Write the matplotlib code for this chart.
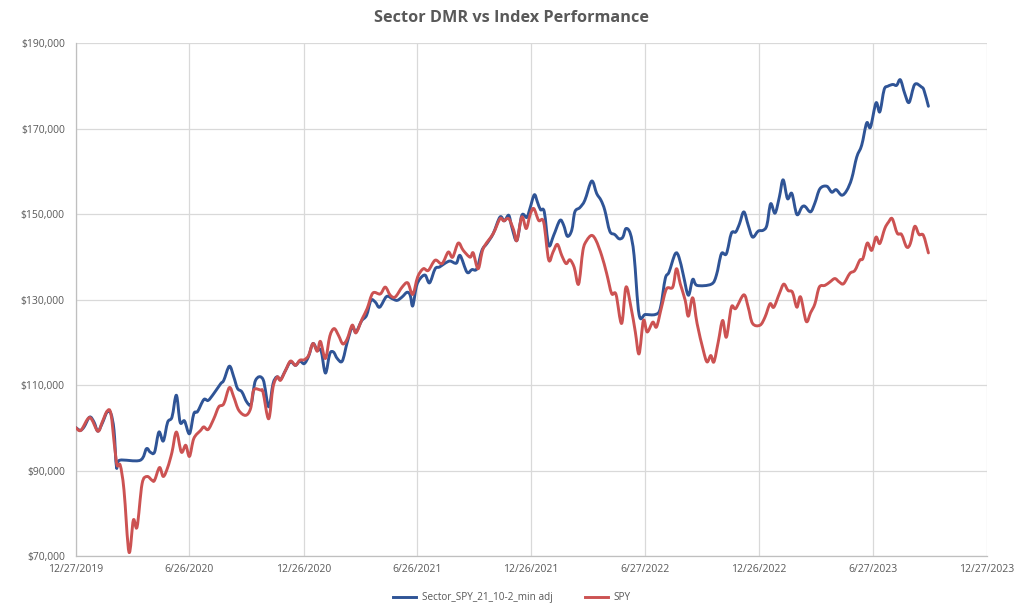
import matplotlib
matplotlib.use("Agg")
import matplotlib.pyplot as plt
import matplotlib.dates as mdates
from matplotlib.ticker import FuncFormatter
from matplotlib.path import Path
from matplotlib.patches import PathPatch
from matplotlib.lines import Line2D
import numpy as np
import pandas as pd

START = "2019-12-27"

# Days elapsed since 12/27/2019 and portfolio values (USD)
sector_days = [0, 7, 13, 22, 29, 35, 42, 50, 56, 61, 65, 70, 103, 113, 119, 126, 133, 140, 147, 154,
               161, 167, 174, 182, 189, 195, 205, 212, 221, 232, 237, 246, 253, 259, 266, 274, 281, 288,
               300, 309, 316, 322, 328, 336, 344, 352, 359, 366, 373, 380, 387, 393, 400, 407, 413, 419,
               427, 435, 443, 449, 458, 466, 473, 480, 487, 498, 507, 515, 523, 531, 536, 540, 546, 552,
               560, 567, 576, 583, 592, 600, 610, 616, 627, 635, 643, 651, 659, 669, 680, 687, 694, 699,
               707, 715, 723, 728, 735, 740, 745, 751, 758, 766, 776, 782, 788, 795, 800, 808, 816, 827,
               835, 842, 848, 856, 864, 871, 877, 882, 889, 895, 903, 913, 929, 937, 945, 951, 961, 967,
               974, 982, 989, 996, 1019, 1027, 1035, 1043, 1051, 1058, 1064, 1071, 1078, 1085, 1094, 1102,
               1108, 1114, 1121, 1128, 1134, 1141, 1148, 1156, 1164, 1169, 1178, 1185, 1193, 1204, 1212,
               1219, 1228, 1236, 1244, 1252, 1260, 1268, 1274, 1283, 1289, 1296, 1302, 1310, 1316, 1322,
               1329, 1336, 1345, 1356, 1360, 1367]
sector_values = [100000, 99400, 100200, 102500, 101300, 99200, 101000, 103700, 103300, 99400, 90800,
                 92400, 92400, 95100, 94300, 94300, 99000, 96900, 101300, 102500, 107600, 101300, 101600,
                 98600, 103300, 103800, 106600, 106400, 108000, 110300, 111100, 114400, 111900, 109200,
                 108400, 106000, 105600, 111100, 111300, 104900, 110300, 111900, 111300, 113400, 115400,
                 114600, 115600, 115000, 116700, 119700, 118100, 118100, 112800, 117300, 117700, 116200,
                 115600, 120000, 123600, 122400, 125000, 126300, 129800, 129400, 128200, 130700, 130200,
                 129800, 130600, 131700, 131000, 128500, 133100, 134900, 135700, 133900, 137200, 137600,
                 138500, 139000, 138500, 140300, 136400, 137000, 137200, 141500, 143100, 145400, 149300,
                 148400, 149700, 146900, 143800, 149700, 149200, 151300, 154500, 152800, 151000, 150500,
                 142700, 145000, 148500, 147400, 144800, 146200, 150500, 151500, 153200, 157700, 154800,
                 153200, 150900, 146000, 145200, 144200, 144600, 146600, 145400, 140300, 126500, 126500,
                 126500, 127900, 134900, 136400, 140700, 139900, 135700, 131000, 134700, 133300, 133600,
                 135700, 140700, 140700, 145500, 145800, 147700, 150500, 147400, 144600, 146000, 146200,
                 147400, 152400, 150200, 154000, 158000, 153600, 154800, 149900, 151600, 151800, 150500,
                 152600, 155900, 156500, 155100, 155700, 154400, 155500, 158300, 163300, 166100, 171300,
                 170300, 176000, 173900, 179100, 179900, 180300, 180100, 181400, 178200, 176100, 180300,
                 179700, 178900, 175200]

spy_days = [0, 8, 22, 35, 42, 50, 56, 62, 66, 71, 77, 85, 92, 98, 106, 114, 122, 126, 134, 140, 147,
            154, 161, 169, 176, 182, 189, 200, 205, 212, 221, 229, 237, 246, 253, 261, 272, 280, 285,
            296, 300, 309, 316, 323, 328, 336, 344, 352, 359, 366, 373, 380, 387, 392, 400, 407, 414,
            421, 428, 435, 443, 449, 459, 467, 476, 488, 496, 504, 512, 523, 532, 540, 548, 557, 565,
            576, 587, 597, 604, 613, 621, 632, 637, 645, 653, 669, 680, 686, 694, 702, 707, 715, 722,
            728, 734, 742, 750, 758, 765, 772, 779, 786, 792, 799, 806, 813, 819, 827, 834, 843, 851,
            859, 866, 875, 882, 890, 897, 903, 910, 916, 925, 931, 939, 947, 957, 963, 969, 977, 982,
            989, 996, 1006, 1012, 1018, 1023, 1030, 1037, 1043, 1051, 1058, 1071, 1078, 1085, 1097,
            1105, 1113, 1119, 1128, 1135, 1142, 1149, 1156, 1162, 1171, 1178, 1185, 1192, 1201, 1209,
            1217, 1224, 1231, 1241, 1249, 1257, 1262, 1269, 1276, 1283, 1289, 1297, 1303, 1309, 1317,
            1324, 1332, 1338, 1345, 1352, 1359, 1367]
spy_values = [100000, 99400, 102400, 99200, 101300, 103900, 103300, 95500, 91200, 91200, 85400, 70900,
              78400, 76800, 86900, 88600, 87700, 87700, 90700, 88600, 90700, 94300, 99000, 94300, 95900,
              93300, 97500, 99400, 100200, 99600, 102100, 104900, 105600, 109400, 107200, 104100, 102900,
              104500, 108800, 108800, 108300, 102100, 109500, 111900, 111100, 113400, 115600, 114600,
              115800, 115900, 116900, 119700, 117900, 120200, 116200, 121400, 123200, 121600, 119600,
              120800, 124000, 122200, 125500, 127900, 131500, 131300, 132900, 131000, 130600, 132900,
              133900, 131200, 135300, 137200, 136800, 139200, 138400, 141100, 139900, 143200, 141500,
              139900, 140900, 137200, 141900, 145400, 148900, 148400, 148900, 146200, 143800, 149300,
              146600, 149700, 151300, 148500, 148100, 139300, 141100, 142900, 140300, 138400, 139300,
              137500, 133600, 141500, 143800, 145000, 143800, 140300, 136100, 131400, 131200, 124400,
              132900, 128200, 122400, 117300, 125100, 122400, 124700, 123600, 128200, 132500, 132900,
              137200, 133700, 129800, 126100, 130400, 124400, 118100, 115400, 116900, 115400, 120100,
              125100, 121200, 128200, 127900, 131100, 128200, 124400, 124000, 125900, 129000, 128200,
              131400, 133600, 132100, 131700, 128200, 130600, 124900, 126900, 129000, 132900, 133300,
              134100, 134900, 134100, 133700, 136100, 136800, 139200, 139600, 143200, 141500, 144600,
              143100, 146600, 148100, 148900, 145500, 145200, 142300, 143100, 147100, 145200, 145000,
              140900]

series_names = ["Sector_SPY_21_10-2_min adj", "SPY"]
tick_dates = ["2019-12-27", "2020-06-26", "2020-12-26", "2021-06-26", "2021-12-26",
              "2022-06-27", "2022-12-26", "2023-06-27", "2023-12-27"]
tick_labels = ["12/27/2019", "6/26/2020", "12/26/2020", "6/26/2021", "12/26/2021",
               "6/27/2022", "12/26/2022", "6/27/2023", "12/27/2023"]
y_ticks = [70000, 90000, 110000, 130000, 150000, 170000, 190000]

plt.rcParams['font.family'] = ['Open Sans', 'DejaVu Sans']

start = pd.Timestamp(START)
sector_dates = start + pd.to_timedelta(sector_days, unit="D")
spy_dates = start + pd.to_timedelta(spy_days, unit="D")


def smooth_path(dates, values):
    """Excel-style smoothed line: cubic Bezier segments through every data point."""
    x = mdates.date2num(dates.to_pydatetime())
    y = np.asarray(values, dtype=float)
    pts = np.column_stack([x, y])
    n = len(pts)
    verts = [pts[0]]
    codes = [Path.MOVETO]
    for i in range(n - 1):
        p0 = pts[i - 1] if i > 0 else pts[i]
        p1 = pts[i]
        p2 = pts[i + 1]
        p3 = pts[i + 2] if i + 2 < n else pts[i + 1]
        c1 = p1 + (p2 - p0) / 6.0
        c2 = p2 - (p3 - p1) / 6.0
        verts += [c1, c2, p2]
        codes += [Path.CURVE4, Path.CURVE4, Path.CURVE4]
    return Path(verts, codes)


fig = plt.figure(figsize=(10.24, 6.12), dpi=100)
ax = fig.add_axes([0.0742, 0.0915, 0.8897, 0.8382])

blue = "#2F5496"
red = "#CC5252"
for d, v, c in [(sector_dates, sector_values, blue), (spy_dates, spy_values, red)]:
    patch = PathPatch(smooth_path(d, v), facecolor="none", edgecolor=c, lw=2.1,
                      joinstyle="round", capstyle="round", zorder=3)
    ax.add_patch(patch)

ax.set_xlim(pd.Timestamp(tick_dates[0]), pd.Timestamp(tick_dates[-1]))
ax.set_ylim(y_ticks[0], y_ticks[-1])
ax.set_xticks([pd.Timestamp(d) for d in tick_dates])
ax.set_xticklabels(tick_labels)
ax.set_yticks(y_ticks)
ax.yaxis.set_major_formatter(FuncFormatter(lambda v, p: f"${v:,.0f}"))

ax.grid(True, color="#D9D9D9", lw=0.9)
ax.set_axisbelow(True)
for s in ["top", "right"]:
    ax.spines[s].set_visible(False)
for s in ["left", "bottom"]:
    ax.spines[s].set_color("#BFBFBF")
    ax.spines[s].set_linewidth(0.9)
ax.tick_params(axis="both", length=0, labelsize=7.5, labelcolor="#595959")
ax.tick_params(axis="x", pad=6)
ax.tick_params(axis="y", pad=8)

fig.suptitle("Sector DMR vs Index Performance", x=0.5, y=0.983, fontsize=11.7,
             fontweight="bold", color="#595959")

handles = [Line2D([], [], color=blue, lw=2.1), Line2D([], [], color=red, lw=2.1)]
fig.legend(handles, series_names, loc="lower center", bbox_to_anchor=(0.5, 0.0), ncol=2,
           frameon=False, fontsize=7.2, labelcolor="#595959", handlelength=2.3,
           handletextpad=0.6, columnspacing=3.2)

fig.savefig("out.png", dpi=100)
